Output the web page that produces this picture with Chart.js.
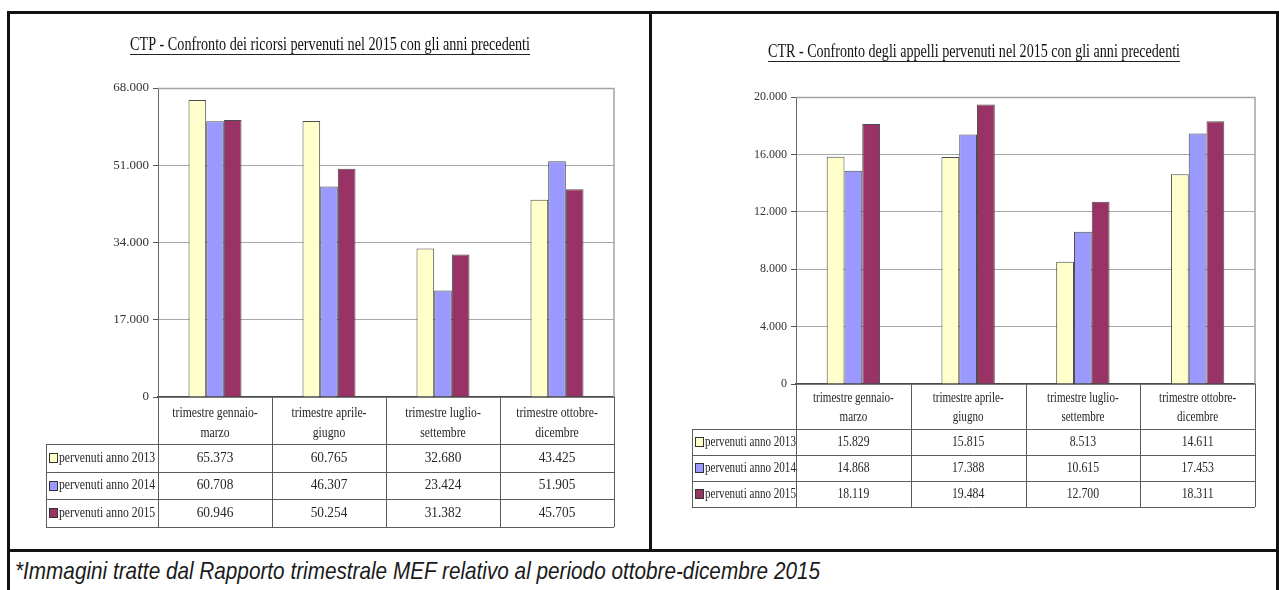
<!DOCTYPE html>
<html>
<head>
<meta charset="utf-8">
<script src="https://cdn.jsdelivr.net/npm/chart.js@4.4.1/dist/chart.umd.min.js"></script>
<style>
  html, body { margin: 0; padding: 0; background: #fff; }
  body { width: 1279px; height: 590px; overflow: hidden; position: relative; }
  canvas { position: absolute; top: 0; }
  .rule { position: absolute; background: #111; z-index: 5; }
  #caption {
    position: absolute; left: 15px; top: 559px; z-index: 6;
    font: italic 24px "Liberation Sans", Arial, sans-serif; line-height: 24px;
    color: #1a1a1a; white-space: nowrap; transform-origin: 0 0;
  }
</style>
</head>
<body>
<canvas id="ctp" width="652" height="550" style="left:0"></canvas>
<canvas id="ctr" width="626" height="550" style="left:653px"></canvas>

<div class="rule" style="left:7px;top:11px;width:1272px;height:3px"></div>
<div class="rule" style="left:7px;top:11px;width:3px;height:579px"></div>
<div class="rule" style="left:1276px;top:11px;width:3px;height:579px"></div>
<div class="rule" style="left:649px;top:11px;width:3px;height:540px"></div>
<div class="rule" style="left:7px;top:549px;width:1272px;height:3px"></div>
<div id="caption">*Immagini tratte dal Rapporto trimestrale MEF relativo al periodo ottobre-dicembre 2015</div>

<script>
// Quarters (two-line labels shown in the data table under each chart)
const quarters = [
  ['trimestre gennaio-', 'marzo'],
  ['trimestre aprile-', 'giugno'],
  ['trimestre luglio-', 'settembre'],
  ['trimestre ottobre-', 'dicembre']
];
const seriesNames = ['pervenuti anno 2013', 'pervenuti anno 2014', 'pervenuti anno 2015'];

// CTP – ricorsi pervenuti
const ctp2013 = [65373, 60765, 32680, 43425];
const ctp2014 = [60708, 46307, 23424, 51905];
const ctp2015 = [60946, 50254, 31382, 45705];
const ctpTicks = [0, 17000, 34000, 51000, 68000];

// CTR – appelli pervenuti
const ctr2013 = [15829, 15815, 8513, 14611];
const ctr2014 = [14868, 17388, 10615, 17453];
const ctr2015 = [18119, 19484, 12700, 18311];
const ctrTicks = [0, 4000, 8000, 12000, 16000, 20000];

const ctpTitle = 'CTP - Confronto dei ricorsi pervenuti nel 2015 con gli anni precedenti';
const ctrTitle = 'CTR - Confronto degli appelli pervenuti nel 2015 con gli anni precedenti';

const seriesColors = ['#FFFFCC', '#9999FF', '#993366'];
const SERIF = '"Liberation Serif", "Times New Roman", serif';

// Italian thousands separator
const fmt = v => String(v).replace(/\B(?=(\d{3})+(?!\d))/g, '.');

// Draw text horizontally condensed by sx
function sText(ctx, str, x, y, align, size, sx, color) {
  ctx.save();
  ctx.font = size + 'px ' + SERIF;
  ctx.fillStyle = color || '#262626';
  ctx.textBaseline = 'middle';
  ctx.textAlign = align;
  ctx.translate(x, y);
  ctx.scale(sx, 1);
  ctx.fillText(str, 0, 0);
  ctx.restore();
}

// Plot frame, underlined title and the data table beneath the x axis
function tablePlugin(cfg) {
  return {
    id: 'dataTable',
    beforeDatasetsDraw(chart) {
      const { ctx, chartArea: a } = chart;
      ctx.save();
      ctx.strokeStyle = '#a3a3a3';
      ctx.lineWidth = 1.5;
      ctx.beginPath();
      ctx.moveTo(a.left, a.top + 0.5);
      ctx.lineTo(a.right, a.top + 0.5);
      ctx.lineTo(a.right, a.bottom);
      ctx.stroke();
      ctx.restore();
    },
    afterDraw(chart) {
      const { ctx, chartArea: a, scales: { x } } = chart;
      const n = quarters.length;
      const catW = (a.right - a.left) / n;
      const centers = quarters.map((q, i) => x.getPixelForValue(i));
      const edges = [a.left].concat(centers.map(c => c + catW / 2));
      const headBottom = a.bottom + cfg.headH;
      const tableBottom = headBottom + cfg.rowH * seriesNames.length;

      // title
      ctx.save();
      ctx.font = cfg.titleSize + 'px ' + SERIF;
      const tw = ctx.measureText(cfg.title).width;
      ctx.restore();
      const tsx = cfg.titleW / tw;
      sText(ctx, cfg.title, cfg.titleX, cfg.titleY, 'center', cfg.titleSize, tsx, '#111');
      ctx.save();
      ctx.strokeStyle = '#222';
      ctx.lineWidth = 1;
      ctx.beginPath();
      const uy = Math.round(cfg.titleY + cfg.titleSize * 0.48) + 0.5;
      ctx.moveTo(cfg.titleX - cfg.titleW / 2, uy);
      ctx.lineTo(cfg.titleX + cfg.titleW / 2, uy);
      ctx.stroke();
      ctx.restore();

      // grid of the table
      ctx.save();
      ctx.strokeStyle = '#5c5c5c';
      ctx.lineWidth = 1;
      ctx.beginPath();
      edges.forEach(e => {
        const px = Math.round(e) + 0.5;
        ctx.moveTo(px, a.bottom);
        ctx.lineTo(px, tableBottom);
      });
      const lx = cfg.tableLeft + 0.5;
      ctx.moveTo(lx, headBottom);
      ctx.lineTo(lx, tableBottom);
      for (let r = 0; r <= seriesNames.length; r++) {
        const py = Math.round(headBottom + r * cfg.rowH) + 0.5;
        ctx.moveTo(cfg.tableLeft, py);
        ctx.lineTo(a.right, py);
      }
      ctx.stroke();
      ctx.restore();

      // category headers
      quarters.forEach((q, i) => {
        q.forEach((line, k) => {
          sText(ctx, line, centers[i], a.bottom + cfg.headLines[k], 'center', cfg.textSize, cfg.labelSx);
        });
      });

      // rows: legend key, series name, values
      cfg.values.forEach((vals, r) => {
        const cy = headBottom + r * cfg.rowH + cfg.rowH / 2;
        ctx.save();
        ctx.fillStyle = seriesColors[r];
        ctx.strokeStyle = '#333';
        ctx.lineWidth = 1;
        const kx = cfg.tableLeft + 3.5, ky = Math.round(cy - 5) + 0.5;
        ctx.fillRect(kx, ky, 8, 9);
        ctx.strokeRect(kx, ky, 8, 9);
        ctx.restore();
        sText(ctx, seriesNames[r], cfg.tableLeft + 13, cy, 'left', cfg.textSize, cfg.labelSx);
        vals.forEach((v, i) => {
          sText(ctx, fmt(v), centers[i], cy, 'center', cfg.textSize, cfg.numSx);
        });
      });
    }
  };
}

function makeChart(id, cfg) {
  const datasets = cfg.values.map((vals, i) => ({
    label: seriesNames[i],
    data: vals,
    backgroundColor: seriesColors[i],
    borderColor: 'rgba(45,45,45,0.85)',
    borderWidth: 1,
    borderSkipped: 'bottom',
    categoryPercentage: 0.465,
    barPercentage: 1
  }));
  return new Chart(document.getElementById(id), {
    type: 'bar',
    data: { labels: quarters.map(q => q.join(' ')), datasets },
    options: {
      responsive: false,
      animation: false,
      events: [],
      layout: { padding: { left: 0, top: cfg.top, right: cfg.right, bottom: cfg.bottom } },
      plugins: { legend: { display: false }, tooltip: { enabled: false }, title: { display: false } },
      scales: {
        x: {
          grid: { display: false, drawTicks: false },
          ticks: { display: false },
          border: { display: true, color: '#4a4a4a', width: 1.5 },
          afterFit: s => { s.height = 0; }
        },
        y: {
          min: 0,
          max: cfg.ticks[cfg.ticks.length - 1],
          afterBuildTicks: s => { s.ticks = cfg.ticks.map(v => ({ value: v })); },
          afterFit: s => { s.width = cfg.axisW; },
          grid: { color: '#a8a8a8', lineWidth: 1, tickColor: '#555', tickLength: 5 },
          border: { display: true, color: '#6a6a6a', width: 1 },
          ticks: {
            font: { family: SERIF, size: cfg.tickSize },
            color: '#333',
            padding: 4,
            callback: v => fmt(v)
          }
        }
      }
    },
    plugins: [tablePlugin(cfg)]
  });
}

makeChart('ctp', {
  values: [ctp2013, ctp2014, ctp2015],
  ticks: ctpTicks,
  title: ctpTitle, titleX: 330, titleY: 45, titleW: 400, titleSize: 18,
  top: 88, bottom: 153, right: 38, axisW: 158, tickSize: 13,
  tableLeft: 46, headH: 47, rowH: 27.7, headLines: [16, 36],
  textSize: 15, labelSx: 0.78, numSx: 0.89
});

makeChart('ctr', {
  values: [ctr2013, ctr2014, ctr2015],
  ticks: ctrTicks,
  title: ctrTitle, titleX: 321, titleY: 52, titleW: 412, titleSize: 18,
  top: 97, bottom: 166, right: 24, axisW: 143, tickSize: 12,
  tableLeft: 39, headH: 45, rowH: 26, headLines: [14, 33],
  textSize: 14, labelSx: 0.79, numSx: 0.84
});

// fit the footnote to its line width
const cap = document.getElementById('caption');
cap.style.transform = 'scaleX(' + (805 / cap.getBoundingClientRect().width) + ')';
</script>
</body>
</html>
